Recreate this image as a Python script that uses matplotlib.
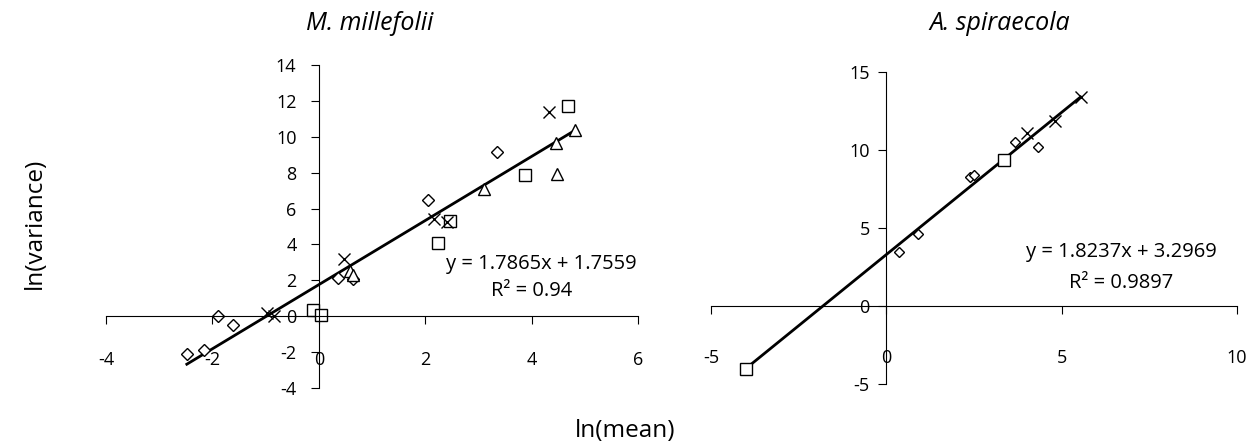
import numpy as np
import matplotlib
matplotlib.use('Agg')
import matplotlib.pyplot as plt

plt.rcParams['font.family'] = ['Open Sans', 'DejaVu Sans']
plt.rcParams['axes.unicode_minus'] = False

# M. millefolii - four series (ln mean, ln variance)
mm_diam_x = [-2.48, -2.15, -1.9, -1.62, 0.37, 0.65, 2.06, 3.35]
mm_diam_y = [-2.1, -1.9, 0.0, -0.5, 2.15, 2.1, 6.5, 9.13]
mm_sq_x = [-0.1, 0.04, 2.25, 2.46, 3.87, 4.69]
mm_sq_y = [0.33, 0.07, 4.1, 5.3, 7.85, 11.74]
mm_tri_x = [0.58, 0.65, 3.1, 4.46, 4.47, 4.82]
mm_tri_y = [2.5, 2.3, 7.1, 9.65, 7.93, 10.35]
mm_x_x = [-0.97, -0.84, 0.47, 2.16, 2.42, 4.33]
mm_x_y = [0.2, 0.0, 3.17, 5.4, 5.25, 11.37]
mm_slope, mm_icept, mm_r2 = 1.7865, 1.7559, 0.94

# A. spiraecola
as_diam_x = [0.35, 0.9, 2.4, 2.5, 3.67, 4.33]
as_diam_y = [3.48, 4.6, 8.3, 8.4, 10.53, 10.2]
as_sq_x = [-4.0, 3.35]
as_sq_y = [-4.06, 9.36]
as_x_x = [4.02, 4.8, 5.54]
as_x_y = [11.07, 11.88, 13.4]
as_slope, as_icept, as_r2 = 1.8237, 3.2969, 0.9897

fig = plt.figure(figsize=(12.57, 4.47), dpi=100)
ax1 = fig.add_axes([0.0843, 0.132, 0.4232, 0.7226])
ax2 = fig.add_axes([0.5656, 0.1409, 0.4185, 0.698])

mk = dict(linestyle='none', mfc='white', mec='black', mew=1.0)


def style(ax, xlim, ylim, xticks, yticks, xpad, ypad):
    ax.set_xlim(*xlim)
    ax.set_ylim(*ylim)
    ax.set_xticks(xticks)
    ax.set_yticks(yticks)
    for s in ['top', 'right']:
        ax.spines[s].set_visible(False)
    ax.spines['left'].set_position(('data', 0))
    ax.spines['bottom'].set_position(('data', 0))
    ax.tick_params(axis='x', direction='out', length=6, pad=xpad, labelsize=13)
    ax.tick_params(axis='y', direction='out', length=6, pad=ypad, labelsize=13)
    ax.patch.set_visible(False)


# left panel
ax1.plot(mm_diam_x, mm_diam_y, marker='D', ms=6, **mk)
ax1.plot(mm_sq_x, mm_sq_y, marker='s', ms=8.5, **mk)
ax1.plot(mm_tri_x, mm_tri_y, marker='^', ms=8.5, **mk)
ax1.plot(mm_x_x, mm_x_y, marker='x', ms=8.5, **mk)
allx = mm_diam_x + mm_sq_x + mm_tri_x + mm_x_x
lx = np.array([min(allx), max(allx)])
ax1.plot(lx, mm_slope * lx + mm_icept, color='black', lw=2, zorder=1)
style(ax1, (-4, 6), (-4, 14), [-4, -2, 0, 2, 4, 6], range(-4, 15, 2), 19, 10)
ax1.text(4.19, 2.9, f'y = {mm_slope}x + {mm_icept}', ha='center', va='center', fontsize=14.5)
ax1.text(4.0, 1.4, f'R² = {mm_r2}', ha='center', va='center', fontsize=14.5)

# right panel
ax2.plot(as_diam_x, as_diam_y, marker='D', ms=5, **mk)
ax2.plot(as_sq_x, as_sq_y, marker='s', ms=8.5, **mk)
ax2.plot(as_x_x, as_x_y, marker='x', ms=8.5, **mk)
allx = as_diam_x + as_sq_x + as_x_x
lx = np.array([min(allx), max(allx)])
ax2.plot(lx, as_slope * lx + as_icept, color='black', lw=2, zorder=1)
style(ax2, (-5, 10), (-5, 15), [-5, 0, 5, 10], [-5, 0, 5, 10, 15], 25, 6)
ax2.text(6.69, 3.46, f'y = {as_slope}x + {as_icept}', ha='center', va='center', fontsize=14.5)
ax2.text(6.69, 1.47, f'R² = {as_r2}', ha='center', va='center', fontsize=14.5)

fig.text(370 / 1257, 1 - 24 / 447, 'M. millefolii', style='italic', fontsize=18,
         ha='center', va='center')
fig.text(1000 / 1257, 1 - 24 / 447, 'A. spiraecola', style='italic', fontsize=18,
         ha='center', va='center')
fig.text(0.028, 0.5, 'ln(variance)', rotation=90, ha='center', va='center', fontsize=17.5)
fig.text(0.497, 0.035, 'ln(mean)', ha='center', va='center', fontsize=17.5)

fig.savefig('out.png', dpi=100)
